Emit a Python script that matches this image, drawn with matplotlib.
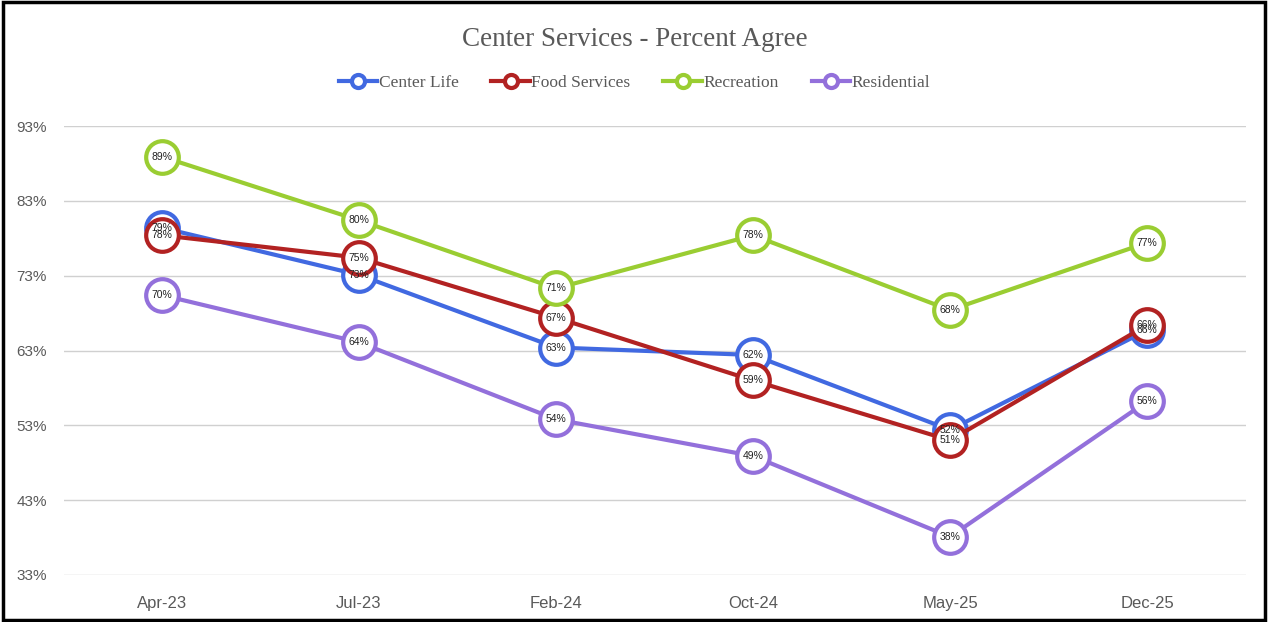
import matplotlib.pyplot as plt
from matplotlib.patches import Rectangle

periods = ['Apr-23', 'Jul-23', 'Feb-24', 'Oct-24', 'May-25', 'Dec-25']
center_life = [0.794, 0.731, 0.634, 0.624, 0.524, 0.657]
food_services = [0.784, 0.754, 0.674, 0.590, 0.510, 0.664]
recreation = [0.889, 0.804, 0.713, 0.784, 0.684, 0.774]
residential = [0.704, 0.641, 0.538, 0.489, 0.381, 0.562]
y_ticks = [0.33, 0.43, 0.53, 0.63, 0.73, 0.83, 0.93]

series = [
    ('Center Life', center_life, '#4169e1'),
    ('Food Services', food_services, '#b22222'),
    ('Recreation', recreation, '#9acd32'),
    ('Residential', residential, '#9370db'),
]

fig = plt.figure(figsize=(12.69, 6.22), dpi=100)
ax = fig.add_axes([63.5 / 1269, 1 - 575 / 622, (1245.5 - 63.5) / 1269, (575 - 126) / 622])

x = list(range(len(periods)))
for name, vals, col in series:
    ax.plot(x, vals, color=col, lw=3, marker='o', ms=23.5, mfc='white',
            mec=col, mew=3, label=name, zorder=3)

for name, vals, col in series:
    for i, v in enumerate(vals):
        ax.text(i, v, '{:.0f}%'.format(v * 100), ha='center', va='center',
                fontsize=7.5, color='#222222', family='Liberation Sans', zorder=10)

ax.set_xlim(-0.5, len(periods) - 0.5)
ax.set_ylim(0.33, 0.93)
ax.set_yticks(y_ticks)
ax.set_yticklabels(['{:.0f}%'.format(t * 100) for t in y_ticks])
ax.set_xticks(x)
ax.set_xticklabels(periods)
ax.tick_params(length=0, colors='#595959')
ax.tick_params(axis='y', labelsize=11, pad=12)
ax.tick_params(axis='x', labelsize=12, pad=15)
for lab in ax.get_yticklabels() + ax.get_xticklabels():
    lab.set_family('Liberation Sans')
ax.grid(axis='y', color='#d0d0d0', lw=1)
ax.set_axisbelow(True)
for s in ax.spines.values():
    s.set_visible(False)

fig.text(0.5, 1 - 39 / 622, 'Center Services - Percent Agree', ha='center', va='center',
         fontsize=19.5, color='#595959', family='Liberation Serif')

handles, labels = ax.get_legend_handles_labels()
leg = fig.legend(handles, labels, loc='center', bbox_to_anchor=(0.5, 1 - 83 / 622),
                 ncol=4, frameon=False, markerscale=0.4, handlelength=2.2,
                 handletextpad=0.1, columnspacing=1.9,
                 prop={'family': 'Liberation Serif', 'size': 12.5})
for t in leg.get_texts():
    t.set_color('#595959')

fig.patches.append(Rectangle((0.002, 0.003), 0.995, 0.994, transform=fig.transFigure,
                             fill=False, edgecolor='black', lw=2.5))

fig.savefig('out.png', dpi=100)
